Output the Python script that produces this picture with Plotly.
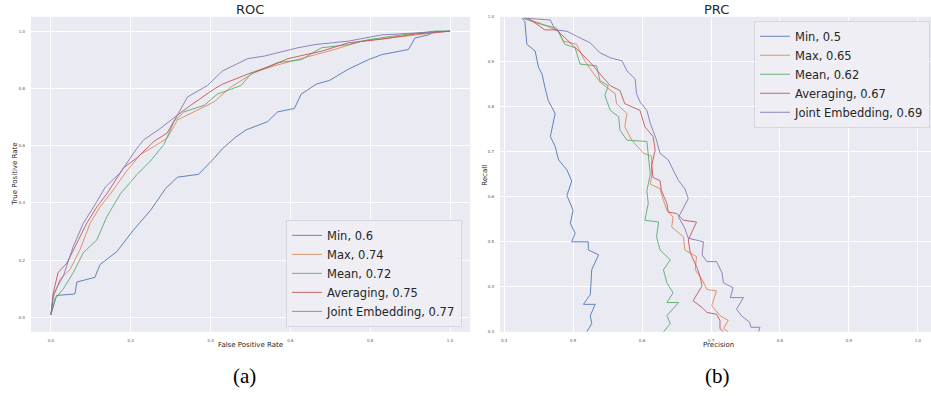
import plotly.graph_objects as go

# ---------------- ROC data ----------------
roc_min_fpr = [0, 0.014, 0.06, 0.065, 0.11, 0.123, 0.165, 0.207, 0.25, 0.287, 0.317, 0.37, 0.41, 0.43, 0.463, 0.489, 0.543, 0.568, 0.61, 0.627, 0.665, 0.698, 0.745, 0.795, 0.829, 0.896, 0.912, 0.946, 0.962, 1.0]
roc_min_tpr = [0.01, 0.077, 0.082, 0.124, 0.14, 0.185, 0.23, 0.306, 0.375, 0.45, 0.49, 0.50, 0.558, 0.59, 0.63, 0.655, 0.684, 0.718, 0.73, 0.78, 0.815, 0.828, 0.867, 0.90, 0.918, 0.936, 0.976, 0.987, 0.999, 1.0]

roc_max_fpr = [0, 0.006, 0.023, 0.048, 0.073, 0.098, 0.123, 0.149, 0.19, 0.224, 0.266, 0.291, 0.317, 0.358, 0.409, 0.45, 0.51, 0.56, 0.661, 0.711, 0.778, 0.913, 1.0]
roc_max_tpr = [0.01, 0.07, 0.134, 0.168, 0.237, 0.329, 0.386, 0.432, 0.512, 0.569, 0.604, 0.626, 0.69, 0.718, 0.753, 0.804, 0.856, 0.879, 0.918, 0.936, 0.965, 0.987, 1.0]

roc_mean_fpr = [0, 0.01, 0.031, 0.056, 0.081, 0.115, 0.14, 0.174, 0.216, 0.249, 0.283, 0.308, 0.333, 0.384, 0.417, 0.476, 0.501, 0.568, 0.627, 0.678, 0.745, 0.795, 0.879, 0.96, 1.0]
roc_mean_tpr = [0.01, 0.065, 0.10, 0.157, 0.226, 0.271, 0.352, 0.432, 0.50, 0.546, 0.604, 0.684, 0.718, 0.741, 0.78, 0.81, 0.85, 0.89, 0.90, 0.942, 0.953, 0.97, 0.987, 1.0, 1.0]

roc_avg_fpr = [0, 0.006, 0.018, 0.04, 0.065, 0.09, 0.115, 0.14, 0.182, 0.216, 0.258, 0.291, 0.317, 0.35, 0.409, 0.43, 0.493, 0.552, 0.594, 0.678, 0.745, 0.829, 0.913, 1.0]
roc_avg_tpr = [0.01, 0.088, 0.157, 0.19, 0.26, 0.33, 0.386, 0.432, 0.523, 0.558, 0.615, 0.644, 0.707, 0.741, 0.798, 0.815, 0.85, 0.879, 0.904, 0.93, 0.959, 0.972, 0.99, 1.0]

roc_joint_fpr = [0, 0.006, 0.031, 0.056, 0.081, 0.107, 0.136, 0.174, 0.216, 0.233, 0.275, 0.317, 0.342, 0.392, 0.43, 0.493, 0.535, 0.619, 0.661, 0.745, 0.829, 0.913, 1.0]
roc_joint_tpr = [0.01, 0.082, 0.145, 0.248, 0.329, 0.386, 0.455, 0.506, 0.592, 0.621, 0.661, 0.707, 0.77, 0.81, 0.861, 0.904, 0.913, 0.942, 0.953, 0.965, 0.987, 0.993, 1.0]

# ---------------- PRC data ----------------
prc_min_prec = [0.426, 0.430, 0.433, 0.445, 0.45, 0.455, 0.459, 0.464, 0.474, 0.467, 0.474, 0.479, 0.491, 0.498, 0.491, 0.50, 0.496, 0.503, 0.498, 0.522, 0.522, 0.537, 0.527, 0.525, 0.525, 0.515, 0.532, 0.525, 0.527, 0.52]
prc_min_rec = [0.997, 0.99, 0.939, 0.924, 0.887, 0.873, 0.844, 0.814, 0.785, 0.734, 0.712, 0.682, 0.66, 0.635, 0.603, 0.57, 0.541, 0.519, 0.50, 0.50, 0.482, 0.471, 0.438, 0.402, 0.383, 0.361, 0.361, 0.336, 0.318, 0.30]

prc_max_prec = [0.428, 0.452, 0.479, 0.486, 0.505, 0.517, 0.525, 0.539, 0.561, 0.563, 0.578, 0.575, 0.585, 0.595, 0.602, 0.614, 0.614, 0.612, 0.626, 0.631, 0.636, 0.645, 0.643, 0.66, 0.662, 0.679, 0.677, 0.687, 0.694, 0.708, 0.701, 0.713, 0.725, 0.718, 0.725]
prc_max_rec = [0.997, 0.986, 0.968, 0.946, 0.939, 0.902, 0.884, 0.855, 0.829, 0.807, 0.785, 0.756, 0.726, 0.708, 0.697, 0.69, 0.647, 0.628, 0.618, 0.592, 0.57, 0.555, 0.533, 0.511, 0.482, 0.467, 0.438, 0.416, 0.394, 0.391, 0.358, 0.336, 0.325, 0.307, 0.30]

prc_mean_prec = [0.428, 0.447, 0.476, 0.488, 0.503, 0.51, 0.534, 0.539, 0.551, 0.546, 0.554, 0.566, 0.568, 0.578, 0.607, 0.609, 0.612, 0.607, 0.609, 0.604, 0.624, 0.621, 0.626, 0.641, 0.631, 0.636, 0.645, 0.636, 0.653, 0.636, 0.641, 0.631]
prc_mean_rec = [0.997, 0.986, 0.975, 0.939, 0.931, 0.895, 0.891, 0.858, 0.847, 0.825, 0.792, 0.778, 0.748, 0.726, 0.723, 0.697, 0.65, 0.614, 0.585, 0.548, 0.544, 0.511, 0.482, 0.46, 0.438, 0.409, 0.387, 0.365, 0.365, 0.336, 0.318, 0.30]

prc_avg_prec = [0.435, 0.459, 0.476, 0.484, 0.498, 0.513, 0.527, 0.539, 0.554, 0.568, 0.575, 0.597, 0.604, 0.616, 0.619, 0.614, 0.616, 0.626, 0.628, 0.636, 0.638, 0.65, 0.66, 0.679, 0.667, 0.67, 0.679, 0.684, 0.687, 0.674, 0.687, 0.694, 0.708, 0.713, 0.713, 0.718]
prc_avg_rec = [0.997, 0.971, 0.971, 0.96, 0.939, 0.917, 0.895, 0.873, 0.847, 0.836, 0.807, 0.792, 0.756, 0.734, 0.704, 0.67, 0.643, 0.636, 0.614, 0.585, 0.566, 0.563, 0.548, 0.544, 0.504, 0.475, 0.445, 0.424, 0.402, 0.369, 0.354, 0.343, 0.339, 0.325, 0.307, 0.30]

prc_joint_prec = [0.43, 0.467, 0.474, 0.491, 0.505, 0.525, 0.539, 0.554, 0.571, 0.578, 0.59, 0.592, 0.597, 0.607, 0.612, 0.621, 0.626, 0.638, 0.645, 0.653, 0.662, 0.667, 0.653, 0.662, 0.667, 0.689, 0.687, 0.694, 0.708, 0.716, 0.718, 0.732, 0.728, 0.747, 0.737, 0.744, 0.756, 0.758, 0.771, 0.769]
prc_joint_rec = [0.997, 0.993, 0.971, 0.968, 0.957, 0.942, 0.92, 0.909, 0.902, 0.88, 0.862, 0.829, 0.811, 0.792, 0.763, 0.726, 0.697, 0.682, 0.66, 0.636, 0.618, 0.596, 0.555, 0.53, 0.508, 0.50, 0.471, 0.456, 0.456, 0.431, 0.409, 0.398, 0.376, 0.376, 0.35, 0.336, 0.321, 0.31, 0.31, 0.30]

roc_names = ["Min, 0.6", "Max, 0.74", "Mean, 0.72", "Averaging, 0.75", "Joint Embedding, 0.77"]
prc_names = ["Min, 0.5", "Max, 0.65", "Mean, 0.62", "Averaging, 0.67", "Joint Embedding, 0.69"]
colors = ["#4C72B0", "#DD8452", "#55A868", "#C44E52", "#8172B3"]

roc_x = [roc_min_fpr, roc_max_fpr, roc_mean_fpr, roc_avg_fpr, roc_joint_fpr]
roc_y = [roc_min_tpr, roc_max_tpr, roc_mean_tpr, roc_avg_tpr, roc_joint_tpr]
prc_x = [prc_min_prec, prc_max_prec, prc_mean_prec, prc_avg_prec, prc_joint_prec]
prc_y = [prc_min_rec, prc_max_rec, prc_mean_rec, prc_avg_rec, prc_joint_rec]

FONT = "DejaVu Sans"
fig = go.Figure()

for i in range(5):
    fig.add_trace(go.Scatter(x=roc_x[i], y=roc_y[i], mode="lines", name=roc_names[i],
                             line=dict(color=colors[i], width=1), opacity=0.85,
                             xaxis="x", yaxis="y", legend="legend"))
for i in range(5):
    fig.add_trace(go.Scatter(x=prc_x[i], y=prc_y[i], mode="lines", name=prc_names[i],
                             line=dict(color=colors[i], width=1), opacity=0.85,
                             xaxis="x2", yaxis="y2", legend="legend2"))

W, H = 931, 396
def px(v):
    return v / W
def py(v):
    return 1 - v / H

axis_common = dict(showgrid=True, gridcolor="white", gridwidth=1, zeroline=False,
                   showline=False, ticks="", tickfont=dict(family=FONT, size=4, color="#555555"),
                   ticklabelstandoff=5)

fig.update_layout(
    width=W, height=H,
    margin=dict(l=0, r=0, t=0, b=0),
    paper_bgcolor="white",
    plot_bgcolor="#EAEAF2",
    font=dict(family=FONT, color="#262626"),
    xaxis=dict(domain=[px(31), px(470)], range=[-0.05, 1.05], tickvals=[0, 0.2, 0.4, 0.6, 0.8, 1.0],
               ticktext=["0.0", "0.2", "0.4", "0.6", "0.8", "1.0"], anchor="y", **axis_common),
    yaxis=dict(domain=[py(333), py(14)], range=[-0.05, 1.05], tickvals=[0, 0.2, 0.4, 0.6, 0.8, 1.0],
               ticktext=["0.0", "0.2", "0.4", "0.6", "0.8", "1.0"], anchor="x", **axis_common),
    xaxis2=dict(domain=[px(500), 1.0], range=[0.394, 1.019],
                tickvals=[0.4, 0.5, 0.6, 0.7, 0.8, 0.9, 1.0],
                ticktext=["0.4", "0.5", "0.6", "0.7", "0.8", "0.9", "1.0"], anchor="y2", **axis_common),
    yaxis2=dict(domain=[py(333), py(14)], range=[0.3, 1.0],
                tickvals=[0.3, 0.4, 0.5, 0.6, 0.7, 0.8, 0.9, 1.0],
                ticktext=["0.3", "0.4", "0.5", "0.6", "0.7", "0.8", "0.9", "1.0"], anchor="x2", **axis_common),
    legend=dict(x=px(462), y=py(328), xanchor="right", yanchor="bottom",
                bgcolor="rgba(238,238,244,0.9)", bordercolor="#d6d6de", borderwidth=1,
                font=dict(family=FONT, size=11.5, color="#262626"), itemwidth=30),
    legend2=dict(x=px(930), y=py(18), xanchor="right", yanchor="top",
                 bgcolor="rgba(238,238,244,0.9)", bordercolor="#d6d6de", borderwidth=1,
                 font=dict(family=FONT, size=11.5, color="#262626"), itemwidth=30),
    showlegend=True,
)

annos = [
    dict(text="ROC", x=px(250), y=py(7), size=13, angle=0),
    dict(text="PRC", x=px(716), y=py(7), size=13, angle=0),
    dict(text="False Positive Rate", x=px(250), y=py(346), size=7, angle=0),
    dict(text="Precision", x=px(718), y=py(346), size=7, angle=0),
    dict(text="True Positive Rate", x=px(15), y=py(174), size=7, angle=-90),
    dict(text="Recall", x=px(485), y=py(174), size=7, angle=-90),
]
for a in annos:
    fig.add_annotation(text=a["text"], x=a["x"], y=a["y"], xref="paper", yref="paper",
                       showarrow=False, textangle=a["angle"], xanchor="center", yanchor="middle",
                       font=dict(family=FONT, size=a["size"], color="#262626"))

for txt, cx in [("(a)", 244), ("(b)", 717)]:
    fig.add_annotation(text=txt, x=px(cx), y=py(378), xref="paper", yref="paper",
                       showarrow=False, xanchor="center", yanchor="middle",
                       font=dict(family="Liberation Serif", size=21, color="black"))

fig.write_html("out.html", config={"displayModeBar": False},
               post_script="document.body.style.margin='0px';")
